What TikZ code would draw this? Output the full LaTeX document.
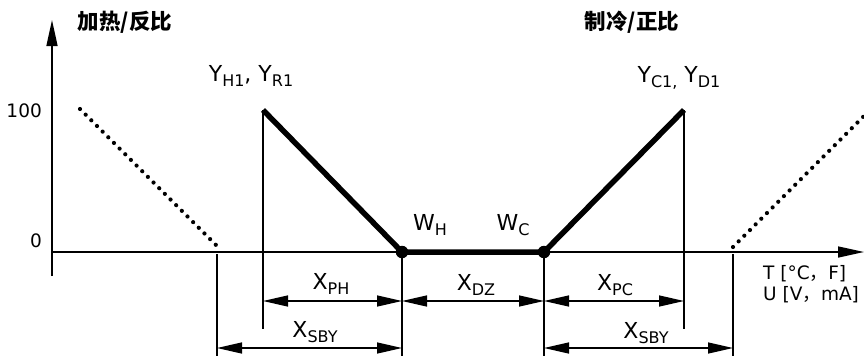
\documentclass[tikz,border=0pt]{standalone}
\usepackage{fontspec}
\setmainfont{DejaVu Sans}
\newfontfamily\cjk{Noto Sans CJK SC}
\usetikzlibrary{arrows.meta}
\newcommand\sbs[1]{\raisebox{-0.24em}{\fontsize{16}{16}\selectfont #1}}
\begin{document}
\begin{tikzpicture}[x=1pt,y=-1pt,
  axis/.style={line width=1.5pt,-{Triangle[length=26pt,width=11pt]}},
  guide/.style={line width=1.4pt},
  curve/.style={line width=5.5pt},
  dotline/.style={line width=4.2pt,line cap=round,dash pattern=on 0pt off 8pt},
  dimarrow/.style={line width=1.4pt,{Triangle[length=25pt,width=11pt]}-{Triangle[length=25pt,width=11pt]}},
  lbl/.style={inner sep=0pt,anchor=base,font=\fontsize{22}{22}\selectfont},
  num/.style={inner sep=0pt,font=\fontsize{18.5}{18.5}\selectfont},
  ttl/.style={inner sep=0pt,font=\fontsize{21.5}{21.5}\selectfont\cjk\bfseries},
  knot/.style={circle,fill,inner sep=0pt,minimum size=12.5pt}
]
\useasboundingbox (0,0) rectangle (864,356);

% key points
\coordinate (yb) at (52,276);
\coordinate (yt) at (52,20);
\coordinate (xl) at (52,252);
\coordinate (xr) at (864,252);
\coordinate (h100) at (263,110);
\coordinate (wh) at (402,252);
\coordinate (wc) at (544,252);
\coordinate (c100) at (684,110);
\coordinate (dl1) at (80,109);
\coordinate (dl2) at (217,246);
\coordinate (dr1) at (733,247);
\coordinate (dr2) at (864,116);
\coordinate (sl) at (217,254);
\coordinate (sr) at (733,254);
\coordinate (r1) at (0,301);
\coordinate (r2) at (0,348);
\coordinate (bot) at (0,356);
\coordinate (lowg) at (0,329);

% axes
\draw[axis] (yb) -- (yt);
\draw[axis] (xl) -- (xr);

% guide lines
\draw[guide] (h100) -- (h100 |- lowg);
\draw[guide] (c100) -- (c100 |- lowg);
\draw[guide] (sl) -- (sl |- bot);
\draw[guide] (sr) -- (sr |- bot);
\draw[guide] (wh) -- (wh |- bot);
\draw[guide] (wc) -- (wc |- bot);

% characteristic
\draw[curve] (h100) -- (wh) -- (wc) -- (c100);
\draw[dotline] (dl1) -- (dl2);
\draw[dotline] (dr1) -- (dr2);
\node[knot] (kh) at (wh) {};
\node[knot] (kc) at (wc) {};

% dimensions
\draw[dimarrow] (h100 |- r1) -- (wh |- r1);
\draw[dimarrow] (wh |- r1) -- (wc |- r1);
\draw[dimarrow] (wc |- r1) -- (c100 |- r1);
\draw[dimarrow] (sl |- r2) -- (wh |- r2);
\draw[dimarrow] (wc |- r2) -- (sr |- r2);

% labels
\node[num,anchor=base east] (n100) at (42,117) {100};
\node[num,anchor=base east] (n0) at (42,247) {0};
\node[ttl] (tl) at (125,22.5) {加热/反比};
\node[ttl] (tr) at (632,22.5) {制冷/正比};
\node[lbl] (yh) at (251,81) {Y\sbs{H1}, Y\sbs{R1}};
\node[lbl] (yc) at (679,82) {Y\sbs{C1,} Y\sbs{D1}};
\node[lbl] (lwh) at (430,230) {W\sbs{H}};
\node[lbl] (lwc) at (513,230) {W\sbs{C}};
\node[lbl] (xph) at (331,289) {X\sbs{PH}};
\node[lbl] (xdz) at (476,290) {X\sbs{DZ}};
\node[lbl] (xpc) at (615,290) {X\sbs{PC}};
\node[lbl] (xs1) at (315,337) {X\sbs{SBY}};
\node[lbl] (xs2) at (646,338) {X\sbs{SBY}};
\node[num,anchor=base west] (tu) at (763,279) {T [°C{\cjk ，}F]};
\node[num,anchor=base west] (uu) at (763,300) {U [V{\cjk ，}mA]};
\end{tikzpicture}
\end{document}
